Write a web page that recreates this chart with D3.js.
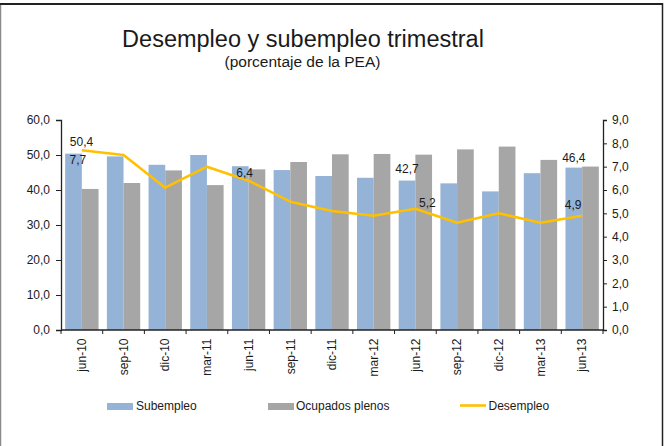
<!DOCTYPE html>
<html>
<head>
<meta charset="utf-8">
<script src="https://cdn.jsdelivr.net/npm/d3@7"></script>
<style>
  html, body { margin: 0; padding: 0; background: #fff; }
  svg { display: block; }
  text { font-family: "Liberation Sans", Arial, sans-serif; fill: #1a1a1a; }
</style>
</head>
<body>
<svg id="chart" width="666" height="446"></svg>
<script>
const categories = ["jun-10","sep-10","dic-10","mar-11","jun-11","sep-11","dic-11","mar-12","jun-12","sep-12","dic-12","mar-13","jun-13"];
const subempleo = [50.4, 49.6, 47.2, 50.0, 46.8, 45.7, 44.0, 43.5, 42.7, 41.9, 39.6, 44.8, 46.4];
const ocupadosPlenos = [40.3, 42.0, 45.6, 41.4, 45.9, 48.0, 50.2, 50.3, 50.1, 51.6, 52.4, 48.6, 46.7];
const desempleo = [7.7, 7.5, 6.1, 7.0, 6.4, 5.5, 5.1, 4.9, 5.2, 4.6, 5.0, 4.6, 4.9];
const leftTicks = [0, 10, 20, 30, 40, 50, 60];
const rightTicks = [0, 1, 2, 3, 4, 5, 6, 7, 8, 9];
const seriesNames = ["Subempleo", "Ocupados plenos", "Desempleo"];
const barLabelIdx = [0, 8, 12];
const lineLabelIdx = [0, 4, 8, 12];

(function () {
const fmt = v => d3.format(".1f")(v).replace(".", ",");

const svg = d3.select("#chart");
const W = 666, H = 446;
const pLeft = 61, pRight = 603, pTop = 120, pBottom = 330;

// frame
svg.append("line").attr("x1", 0.5).attr("x2", 0.5).attr("y1", 3).attr("y2", H).attr("stroke", "#8a8a8a").attr("stroke-width", 1.5);
svg.append("line").attr("x1", 0).attr("x2", 663).attr("y1", 4).attr("y2", 4).attr("stroke", "#222").attr("stroke-width", 2);
svg.append("line").attr("x1", 662.5).attr("x2", 662.5).attr("y1", 3).attr("y2", H).attr("stroke", "#222").attr("stroke-width", 1.5);

// titles
svg.append("text").attr("x", 303).attr("y", 47).attr("text-anchor", "middle")
  .style("font-size", "23.5px").text("Desempleo y subempleo trimestral");
svg.append("text").attr("x", 302.5).attr("y", 67).attr("text-anchor", "middle")
  .style("font-size", "15.5px").text("(porcentaje de la PEA)");

const x = d3.scaleBand().domain(categories).range([pLeft, pRight]).padding(0);
const step = x.bandwidth();
const yL = d3.scaleLinear().domain([0, 60]).range([pBottom, pTop]);
const yR = d3.scaleLinear().domain([0, 9]).range([pBottom, pTop]);

const blue = "#95B3D7", grey = "#A6A6A6", gold = "#FFC000";

// bars
const g = svg.append("g");
categories.forEach((c, i) => {
  const x0 = x(c) + step * 0.1, bw = step * 0.4;
  g.append("rect").attr("x", x0).attr("width", bw)
    .attr("y", yL(subempleo[i])).attr("height", yL(0) - yL(subempleo[i])).attr("fill", blue);
  g.append("rect").attr("x", x0 + bw).attr("width", bw)
    .attr("y", yL(ocupadosPlenos[i])).attr("height", yL(0) - yL(ocupadosPlenos[i])).attr("fill", grey);
});

// line
const line = d3.line().x((d, i) => x(categories[i]) + step / 2).y(d => yR(d));
svg.append("path").datum(desempleo).attr("d", line).attr("fill", "none")
  .attr("stroke", gold).attr("stroke-width", 2.6).attr("stroke-linejoin", "round");

// axes
const axisColor = "#222";
const lAxis = svg.append("g").attr("transform", `translate(${pLeft},0)`)
  .call(d3.axisLeft(yL).tickValues(leftTicks).tickFormat(fmt).tickSize(5).tickPadding(6));
const rAxis = svg.append("g").attr("transform", `translate(${pRight},0)`)
  .call(d3.axisRight(yR).tickValues(rightTicks).tickFormat(fmt).tickSize(4).tickPadding(5));
[lAxis, rAxis].forEach(a => {
  a.select(".domain").attr("stroke", axisColor).attr("stroke-width", 1.3);
  a.selectAll(".tick line").attr("stroke", axisColor);
  a.selectAll("text").style("font-size", "12px").attr("fill", "#1a1a1a")
    .style("font-family", "'Liberation Sans', Arial, sans-serif");
});

// bottom axis
svg.append("line").attr("x1", pLeft).attr("x2", pRight).attr("y1", pBottom).attr("y2", pBottom)
  .attr("stroke", axisColor).attr("stroke-width", 1.3);
const bounds = categories.map(c => x(c)).concat([pRight]);
svg.selectAll(".xt").data(bounds).enter().append("line")
  .attr("x1", d => d).attr("x2", d => d).attr("y1", pBottom).attr("y2", pBottom + 4)
  .attr("stroke", axisColor);
svg.selectAll(".xl").data(categories).enter().append("text")
  .attr("transform", d => `translate(${x(d) + step / 2},338.5) rotate(-90)`)
  .attr("text-anchor", "end").attr("dy", "0.35em")
  .style("font-size", "12px").text(d => d);

// data labels
const barLabelOffsets = [[8, -8], [0, -8], [0, -6]];
barLabelIdx.forEach((i, k) => {
  const cx = x(categories[i]) + step * 0.3;
  svg.append("text").attr("x", cx + barLabelOffsets[k][0]).attr("y", yL(subempleo[i]) + barLabelOffsets[k][1])
    .attr("text-anchor", "middle").style("font-size", "12px").text(fmt(subempleo[i]));
});
const lineLabelOffsets = [[-4, 14], [-4, -4], [12, -2], [-9, -7]];
lineLabelIdx.forEach((i, k) => {
  const cx = x(categories[i]) + step / 2;
  svg.append("text").attr("x", cx + lineLabelOffsets[k][0]).attr("y", yR(desempleo[i]) + lineLabelOffsets[k][1])
    .attr("text-anchor", "middle").style("font-size", "12px").text(fmt(desempleo[i]));
});

// legend
const leg = svg.append("g");
leg.append("rect").attr("x", 107).attr("y", 403).attr("width", 26).attr("height", 7).attr("fill", blue);
leg.append("text").attr("x", 136).attr("y", 410).style("font-size", "12px").text(seriesNames[0]);
leg.append("rect").attr("x", 268).attr("y", 403).attr("width", 26).attr("height", 7).attr("fill", grey);
leg.append("text").attr("x", 296).attr("y", 410).style("font-size", "12px").text(seriesNames[1]);
leg.append("line").attr("x1", 460).attr("x2", 486).attr("y1", 405.5).attr("y2", 405.5)
  .attr("stroke", gold).attr("stroke-width", 2.6);
leg.append("text").attr("x", 488.5).attr("y", 410).style("font-size", "12px").text(seriesNames[2]);
})();
</script>
</body>
</html>
